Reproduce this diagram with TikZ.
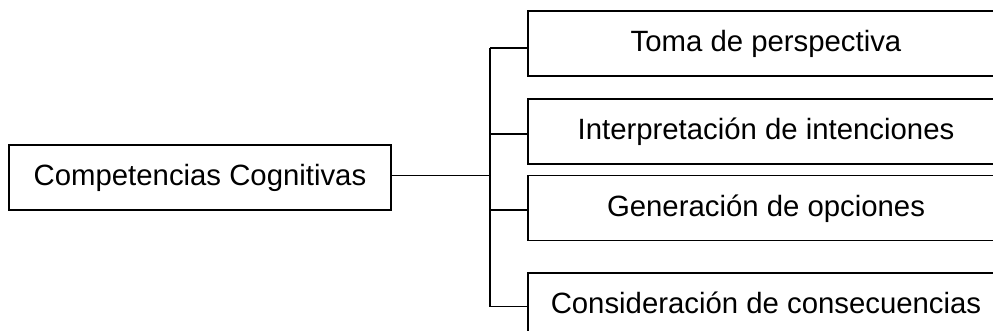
\documentclass[tikz,border=0pt]{standalone}
\usepackage{fontspec}
\setmainfont{Liberation Sans}
\tikzset{
  caja/.style={draw, line width=1.2pt, inner sep=0pt, text height=15.75pt, text depth=3.7pt,
    font=\fontsize{22}{26}\selectfont, minimum height=48.75pt},
  rama/.style={line width=1.2pt}
}

\begin{document}
\begin{tikzpicture}[x=0.75pt,y=-0.75pt]
\clip (0,0) rectangle (993,331);
% caja principal
\node[caja, minimum width=286.5pt] (comp) at (200,177.5) {Competencias Cognitivas\hspace{6pt}};
% cajas de la derecha
\node[caja, minimum width=357pt] (toma) at (766,43.8) {Toma de perspectiva};
\node[caja, minimum width=357pt] (inte) at (766,131.3) {Interpretación de intenciones};
\node[caja, minimum width=357pt] (gene) at (766,208) {Generación de opciones};
\node[caja, minimum width=357pt] (cons) at (766,305.8) {Consideración de consecuencias};
% tronco
\coordinate (t0) at (490,175.7);
\coordinate (t1) at (490,48.3);
\coordinate (t2) at (490,134.3);
\coordinate (t3) at (490,210);
\coordinate (t4) at (490,306.7);
\draw[rama] (comp.east |- t0) -- (t0);
\draw[rama] (t1) -- (t4);
% ramas
\draw[rama] (t1) -- (t1 -| toma.west);
\draw[rama] (t2) -- (t2 -| inte.west);
\draw[rama] (t3) -- (t3 -| gene.west);
\draw[rama] (t4) -- (t4 -| cons.west);
\end{tikzpicture}
\end{document}
